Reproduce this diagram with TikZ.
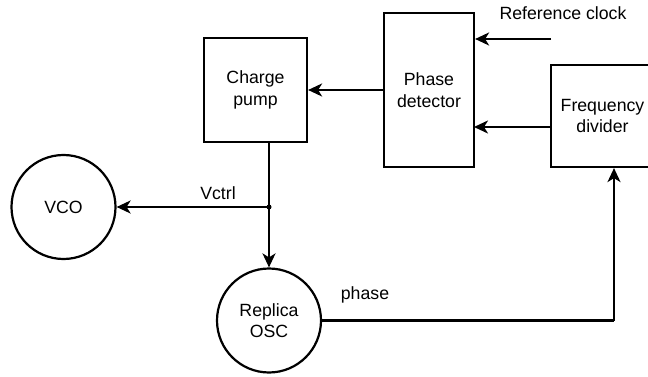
\documentclass[tikz,border=0pt]{standalone}
\usepackage{fontspec}
\setmainfont{Liberation Sans}
\usetikzlibrary{arrows.meta}
\begin{document}
\begin{tikzpicture}[x=1pt,y=-1pt,
  every node/.style={font=\fontsize{17.7}{21.5}\selectfont},
  blockbox/.style={draw,line width=2.2pt,rectangle,align=center,inner sep=0pt},
  roundbox/.style={draw,line width=2.2pt,circle,align=center,inner sep=0pt,minimum size=104pt},
  lbl/.style={inner sep=0pt},
  arr/.style={line width=2.2pt,-{Stealth[length=14pt,width=13pt,inset=4pt]}},
  wire/.style={line width=2.2pt}]
\useasboundingbox (0,0) rectangle (648,377);
\clip (0,0) rectangle (648,377);
\node[blockbox,minimum width=103pt,minimum height=104pt] (cp) at (255.5,90) {Charge\\pump};
\node[blockbox,minimum width=90pt,minimum height=154pt] (pd) at (429,90) {Phase\\detector};
\node[blockbox,minimum width=103pt,minimum height=102pt] (fd) at (602.5,116) {Frequency\\divider};
\node[roundbox] (vco) at (63.5,207) {VCO};
\node[roundbox] (osc) at (269,320.5) {Replica\\OSC};
\node[lbl] (rclk) at (563,13) {Reference clock};
\node[lbl] (vlbl) at (218,193) {Vctrl};
\node[lbl] (plbl) at (365,295) {phase};
\coordinate (rc) at (551,39);
\coordinate (a2) at (474,127);
\coordinate (j) at (269,207);
\coordinate (fb) at (614,320.5);
\draw[arr] (rc) -- (rc -| pd.east);
\draw[arr] (a2 -| fd.west) -- (a2);
\draw[arr] (pd.west) -- (cp.east);
\draw[wire] (j |- cp.south) -- (j);
\draw[arr] (j) -- (osc.north);
\draw[arr] (j) -- (vco.east);
\fill (j) circle (2.5pt);
\draw[wire] (osc.east) -- (fb);
\draw[arr] (fb) -- (fb |- fd.south);
\end{tikzpicture}
\end{document}
